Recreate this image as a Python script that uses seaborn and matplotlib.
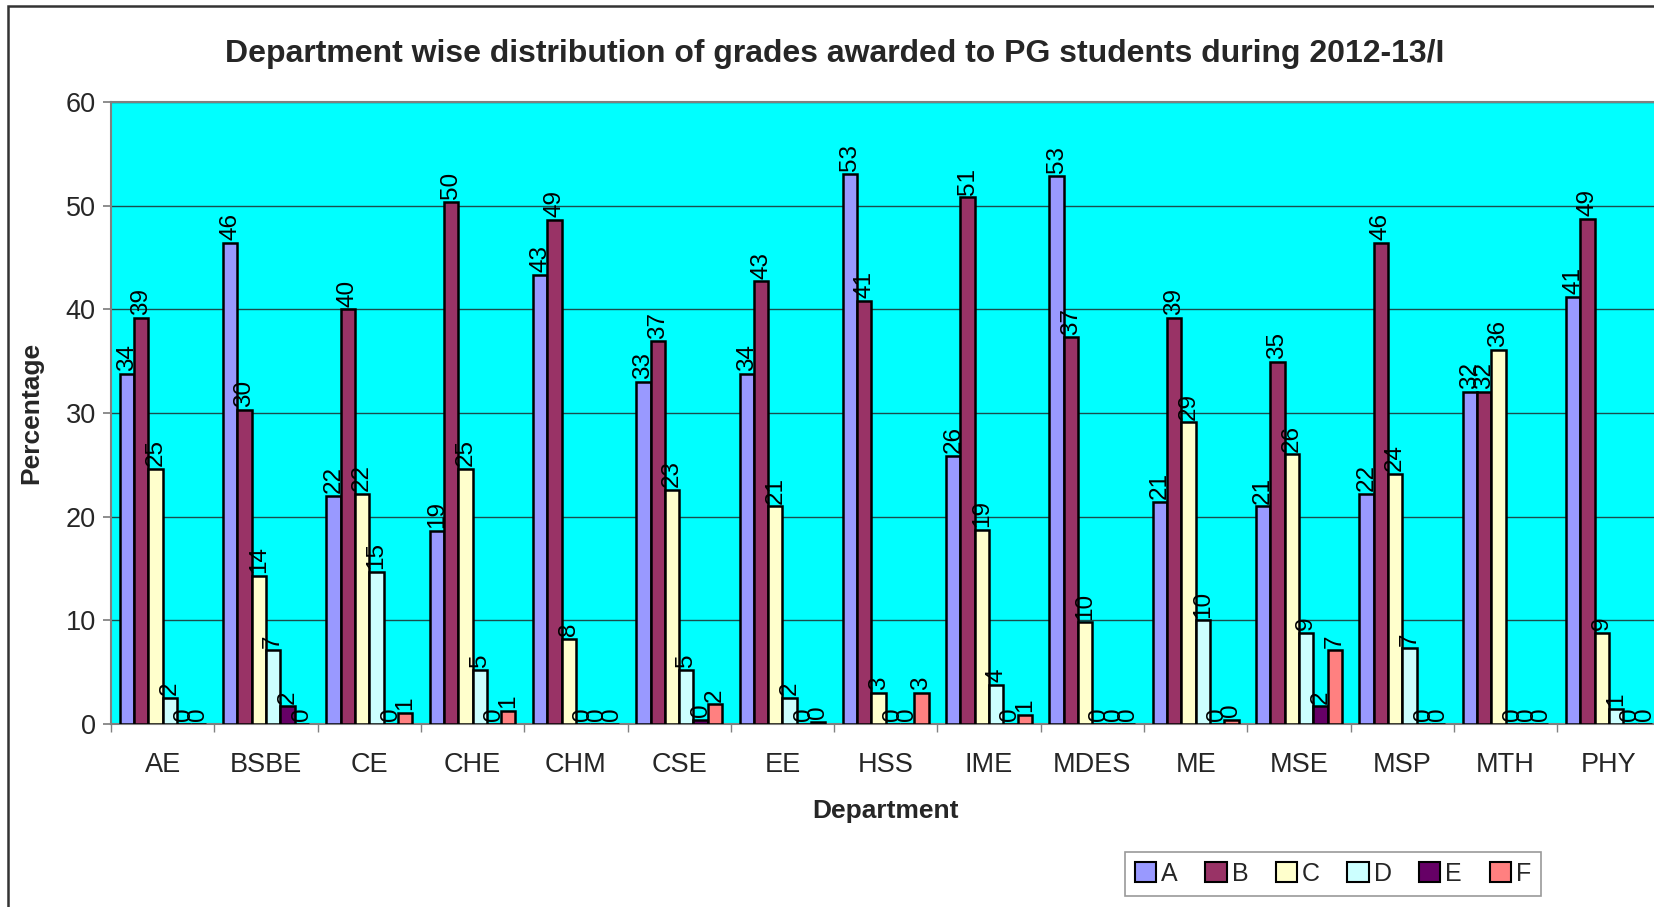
import matplotlib
matplotlib.use("Agg")
import matplotlib.pyplot as plt
import matplotlib.patches as mpatches
import seaborn as sns
import pandas as pd

departments = ["AE", "BSBE", "CE", "CHE", "CHM", "CSE", "EE", "HSS", "IME", "MDES",
               "ME", "MSE", "MSP", "MTH", "PHY"]
grades = ["A", "B", "C", "D", "E", "F"]
grade_A = [33.8, 46.4, 22.0, 18.6, 43.3, 33.0, 33.8, 53.1, 25.9, 52.9, 21.4, 21.0, 22.2, 32.0, 41.2]
grade_B = [39.2, 30.3, 40.0, 50.4, 48.6, 36.9, 42.7, 40.8, 50.8, 37.3, 39.2, 34.9, 46.4, 32.0, 48.7]
grade_C = [24.6, 14.3, 22.2, 24.6, 8.2, 22.6, 21.0, 3.0, 18.7, 9.8, 29.1, 26.0, 24.1, 36.1, 8.8]
grade_D = [2.5, 7.1, 14.7, 5.2, 0.0, 5.2, 2.5, 0.0, 3.8, 0.0, 10.0, 8.8, 7.3, 0.0, 1.45]
grade_E = [0.0, 1.7, 0.0, 0.0, 0.0, 0.36, 0.0, 0.0, 0.0, 0.0, 0.0, 1.7, 0.0, 0.0, 0.0]
grade_F = [0.0, 0.0, 1.1, 1.3, 0.0, 1.9, 0.2, 3.0, 0.9, 0.0, 0.4, 7.1, 0.0, 0.0, 0.0]
colors = ["#9999FF", "#993366", "#FFFFCC", "#CCFFFF", "#660066", "#FF8080"]

series = [grade_A, grade_B, grade_C, grade_D, grade_E, grade_F]
rows = []
for g, vals in zip(grades, series):
    for d, v in zip(departments, vals):
        rows.append({"Department": d, "Grade": g, "Percentage": v})
df = pd.DataFrame(rows)

sns.set_theme(style="white")
plt.rcParams["font.family"] = ["Liberation Sans", "DejaVu Sans"]

W, H = 1654, 907
fig = plt.figure(figsize=(W / 100, H / 100), dpi=100)
fig.patch.set_facecolor("white")
ax = fig.add_axes([111 / W, 1 - 724 / H, 1549.5 / W, 622 / H])
ax.set_facecolor("#00FFFF")

sns.barplot(data=df, x="Department", y="Percentage", hue="Grade", order=departments,
            hue_order=grades, palette=colors, edgecolor="black", linewidth=1.8,
            width=0.83, saturation=1, legend=False, ax=ax, zorder=3)

for cont in ax.containers:
    ax.bar_label(cont, fmt="%.0f", rotation=90, padding=2, fontsize=17.5, color="black")

ax.set_ylim(0, 60)
ax.set_xlim(-0.5, 14.5)
ax.set_yticks(range(0, 61, 10))
ax.yaxis.grid(True, color="#1a4d4d", linewidth=1.0, zorder=0)
ax.set_axisbelow(True)
ax.tick_params(axis="y", labelsize=19.5, length=6, color="#808080", direction="out", left=True, pad=5)
ax.tick_params(axis="x", which="major", labelsize=19.5, length=0, pad=20)
ax.set_xticks([i - 0.5 for i in range(16)], minor=True)
ax.tick_params(axis="x", which="minor", length=6, color="#808080", direction="out", bottom=True)
for s in ax.spines.values():
    s.set_color("#808080")
    s.set_linewidth(1.5)

ax.set_xlabel("Department", fontsize=19, fontweight="bold", labelpad=15)
ax.set_ylabel("Percentage", fontsize=19, fontweight="bold", labelpad=16)

fig.text(835 / W, 1 - 54 / H, "Department wise distribution of grades awarded to PG students during 2012-13/I",
         ha="center", va="center", fontsize=23, fontweight="bold")

handles = [mpatches.Patch(facecolor=c, edgecolor="black", linewidth=1.5, label=g)
           for c, g in zip(colors, grades)]
leg = fig.legend(handles=handles, ncol=6, loc="center", bbox_to_anchor=(1333 / W, 1 - 874 / H),
                 fontsize=18, frameon=True, fancybox=False, handlelength=0.85, handleheight=0.85,
                 handletextpad=0.2, columnspacing=1.1, borderpad=0.4)
leg.get_frame().set_edgecolor("#808080")
leg.get_frame().set_linewidth(1.2)

border = mpatches.Rectangle((8 / W, -0.1), 1.2, (H - 6) / H + 0.1, transform=fig.transFigure,
                            fill=False, edgecolor="#333333", linewidth=1.8, clip_on=False)
fig.patches.append(border)

fig.savefig("out.png", dpi=100)
